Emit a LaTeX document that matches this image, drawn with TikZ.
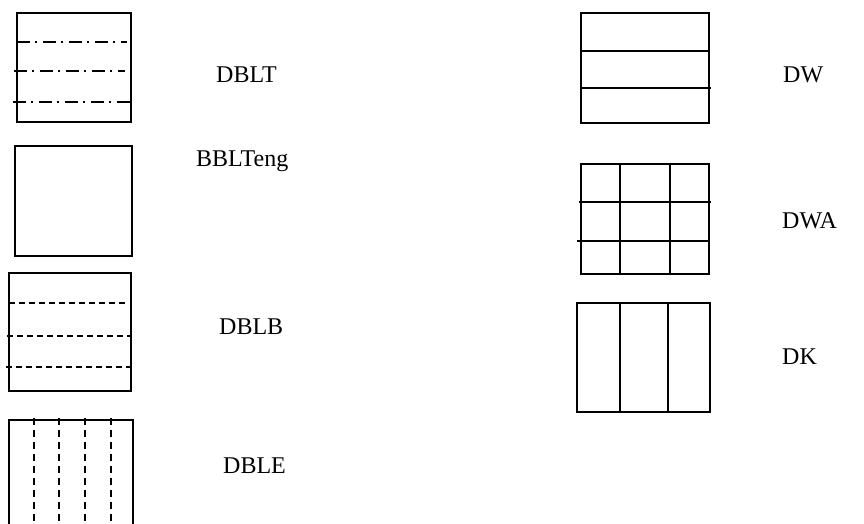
\documentclass[tikz,border=0pt]{standalone}
\usepackage{fontspec}
\setmainfont{Liberation Serif}
\begin{document}
\begin{tikzpicture}[x=1pt,y=-1pt,
  frame/.style={line width=1.8pt},
  rule/.style={line width=1.6pt},
  dashdotrule/.style={rule, dash pattern=on 13pt off 5pt on 2pt off 6pt},
  dashrule/.style={rule, dash pattern=on 6pt off 4pt},
  vdashrule/.style={rule, dash pattern=on 7pt off 5pt},
  lbl/.style={anchor=base west, inner sep=0pt, font=\fontsize{24}{28}\selectfont}]
\useasboundingbox (0,0) rectangle (864,524);
\clip (0,0) rectangle (864,524);

% DBLT: three dash-dot rules
\draw[frame] (17,13) rectangle (131,122);
\draw[dashdotrule] (17,42) -- (127,42);
\draw[dashdotrule] (14,71) -- (125,71);
\draw[dashdotrule] (13,102) -- (131,102);
\node[lbl] (tDBLT) at (216,83) {DBLT};

% BBLTeng: plain square
\draw[frame] (15,146) rectangle (132,256);
\node[lbl] (tBBLTeng) at (196,166) {BBLTeng};

% DBLB: three dashed rules
\draw[frame] (9,273) rectangle (131,391);
\draw[dashrule] (9,303) -- (127,303);
\draw[dashrule] (7,336) -- (131,336);
\draw[dashrule] (6,367) -- (131,367);
\node[lbl] (tDBLB) at (219,334) {DBLB};

% DBLE: vertical dashed rules, box runs past the bottom edge
\draw[frame] (9,540) -- (9,420) -- (133,420) -- (133,540);
\foreach \x in {34,59,85,111}
  \draw[vdashrule] (\x,418) -- (\x,530);
\node[lbl] (tDBLE) at (223,473) {DBLE};

% DW: two solid horizontal rules
\draw[frame] (581,13) rectangle (709,123);
\draw[rule] (581,51) -- (709,51);
\draw[rule] (581,88) -- (711,88);
\node[lbl] (tDW) at (783,83) {DW};

% DWA: 3x3 grid
\draw[frame] (581,164) rectangle (709,274);
\draw[rule] (579,202) -- (711,202);
\draw[rule] (577,241) -- (709,241);
\draw[rule] (620,164) -- (620,274);
\draw[rule] (670,164) -- (670,274);
\node[lbl] (tDWA) at (782,228) {DWA};

% DK: two solid vertical rules
\draw[frame] (577,303) rectangle (710,412);
\draw[rule] (620,303) -- (620,412);
\draw[rule] (668,303) -- (668,412);
\node[lbl] (tDK) at (782,364) {DK};
\end{tikzpicture}
\end{document}
